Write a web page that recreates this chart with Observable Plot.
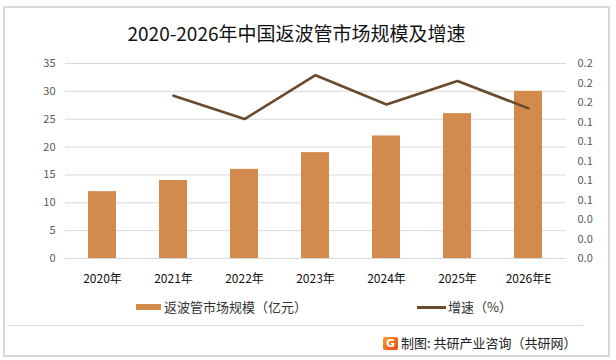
<!DOCTYPE html>
<html>
<head>
<meta charset="utf-8">
<script src="https://cdn.jsdelivr.net/npm/d3@7"></script>
<script src="https://cdn.jsdelivr.net/npm/@observablehq/plot@0.6"></script>
<style>
  html, body { margin: 0; padding: 0; background: #fff; }
  body { font-family: "Noto Sans CJK SC", "Noto Sans", sans-serif; }
  #wrap { position: relative; width: 616px; height: 360px; overflow: hidden; }
  #frame { position: absolute; left: 3px; top: 6px; width: 603px; height: 347px; border: 2px solid #d9d9d9; }
  #title { position: absolute; left: 0; top: 19px; width: 593px; text-align: center; font-size: 19px; color: #111; line-height: 28px; }
  #chart { position: absolute; left: 0; top: 0; }
  .leg { position: absolute; font-size: 13px; color: #333; line-height: 16px; white-space: nowrap; }
  #sep { position: absolute; left: 7px; top: 325px; width: 576px; height: 0; border-top: 1px solid #d9d9d9; }
  #foot { position: absolute; left: 401px; top: 335px; font-size: 13px; color: #222; line-height: 16px; white-space: nowrap; }
  #logo { position: absolute; left: 383px; top: 337px; width: 15px; height: 13px; border-radius: 2px;
          background: linear-gradient(135deg, #f7a21b, #e8431c); color: #fff; font: bold 11px "DejaVu Sans", sans-serif;
          text-align: center; line-height: 13px; }
</style>
</head>
<body>
<div id="wrap">
  <div id="frame"></div>
  <div id="title"></div>
  <div id="chart"></div>
  <div class="leg" id="sw1" style="left:136px; top:304px; width:25px; height:6px; background:#D38B4D;"></div>
  <div class="leg" id="lg1" style="left:164px; top:299px;"></div>
  <div class="leg" id="sw2" style="left:417px; top:306px; width:29px; height:3px; background:#6A4A2F;"></div>
  <div class="leg" id="lg2" style="left:448px; top:299px;"></div>
  <div id="sep"></div>
  <div id="logo">G</div>
  <div id="foot"></div>
</div>
<script>
const titleText = "2020-2026年中国返波管市场规模及增速";
const years = ["2020年", "2021年", "2022年", "2023年", "2024年", "2025年", "2026年E"];
const marketSize = [12, 14, 16, 19, 22, 26, 30];            // 亿元
const growth = [null, 0.167, 0.143, 0.188, 0.158, 0.182, 0.154]; // 增速
const leftTicks = [0, 5, 10, 15, 20, 25, 30, 35];
const rightTicks = [0, 0.02, 0.04, 0.06, 0.08, 0.10, 0.12, 0.14, 0.16, 0.18, 0.20];
const seriesBar = "返波管市场规模（亿元）";
const seriesLine = "增速（%）";
const footText = "制图: 共研产业咨询（共研网）";

const leftMax = 35, rightMax = 0.2;
const k = leftMax / rightMax;

document.getElementById("title").textContent = titleText;
document.getElementById("lg1").textContent = seriesBar;
document.getElementById("lg2").textContent = seriesLine;
document.getElementById("foot").textContent = footText;

const bars = years.map((y, i) => ({year: y, value: marketSize[i]}));
const pts = years.map((y, i) => ({year: y, g: growth[i]})).filter(d => d.g != null);

const plot = Plot.plot({
  width: 616,
  height: 300,
  marginTop: 63,
  marginBottom: 42,
  marginLeft: 65,
  marginRight: 50,
  style: {fontFamily: '"Noto Sans CJK SC", "Noto Sans", sans-serif', background: "transparent"},
  x: {domain: years, paddingInner: 0.6, paddingOuter: 0.3, label: null},
  y: {domain: [0, leftMax], label: null},
  marks: [
    Plot.ruleY(leftTicks, {stroke: "#d9d9d9", strokeWidth: 1}),
    Plot.barY(bars, {x: "year", y: "value", fill: "#D38B4D"}),
    Plot.line(pts, {x: "year", y: d => d.g * k, stroke: "#6A4A2F", strokeWidth: 2.6, strokeLinejoin: "miter", curve: "linear"}),
    Plot.axisY({anchor: "left", ticks: leftTicks, tickSize: 0, tickPadding: 10, tickFormat: d => String(d),
      fontSize: 11, color: "#595959", label: null}),
    Plot.axisY({anchor: "right", ticks: rightTicks.map(t => t * k), tickSize: 0, tickPadding: 11,
      tickFormat: d => (d / k).toFixed(1), fontSize: 11, color: "#595959", label: null}),
    Plot.axisX({tickSize: 0, tickPadding: 16, fontSize: 12, color: "#111", label: null})
  ]
});
document.getElementById("chart").appendChild(plot);
</script>
</body>
</html>
